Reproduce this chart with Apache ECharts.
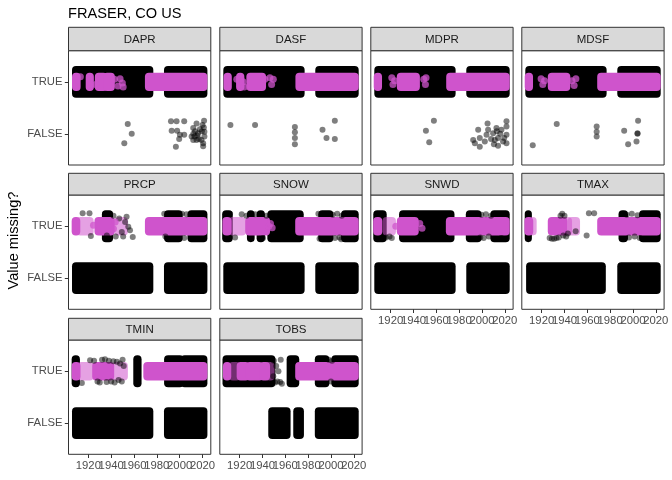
<!DOCTYPE html>
<html><head><meta charset="utf-8">
<script src="https://cdn.jsdelivr.net/npm/echarts@6/dist/echarts.min.js"></script>
<style>html,body{margin:0;padding:0;background:#fff}#c{width:672px;height:480px}</style>
</head><body><div id="c"></div>
<script>
// ---------- data ----------
const panels = ['DAPR','DASF','MDPR','MDSF','PRCP','SNOW','SNWD','TMAX','TMIN','TOBS'];
const yLevels = ['FALSE','TRUE'];            // y = 1, 2
const xTicks = [1920,1940,1960,1980,2000,2020];
const titleText = 'FRASER, CO US';
const yTitle = 'Value missing?';

// dense runs of points: [startYear, endYear]
const DAPR_T_black = [[1908.3,1974.3],[1988.9,2021.7]];
const DAPR_F_black = [];
const DAPR_T_pink = [[1908.3,1910.6],[1920.3,1922.2],[1928.3,1934],[1935.5,1940.6],[1972.2,2021.7]];
const DAPR_T_pinkLight = [];
const DAPR_pinkPts = [[1913,2.1],[1926.5,1.95],[1942.8,2.05],[1946,1.92],[1947.8,2.06],[1949.8,1.98],[1950.5,1.9]];
const DAPR_pts = [[1954.5,1.19],[1958,1.0],[1951.5,0.82],[1992.4,1.24],[1997.3,1.24],[2004,1.24],[1993,1.06],[1997.8,1.06],[2000.2,0.98],[2004,0.98],[1999.6,0.9],[1996.7,0.75],[2021.4,1.25],[2014.8,1.2],[2020,1.17],[2011.9,1.11],[2017.7,1.09],[2021.7,1.04],[2013.1,0.95],[2014.8,0.88],[2021.7,0.95],[2011.9,0.88],[2020.6,0.82],[2020.6,0.76],[2016.2,1.01],[2010.5,0.95],[2019.1,0.88],[2012,1.0],[2013.5,1.05],[2015.5,0.97],[2016.8,0.9],[2019.5,1.05],[2021.2,1.12]];

const DASF_T_black = [[1908.3,1974.3],[1988.9,2021.7]];
const DASF_F_black = [];
const DASF_T_pink = [[1908.5,1910.5],[1919.5,1921.5],[1928.5,1940.5],[1971.5,2021.7]];
const DASF_T_pinkLight = [];
const DASF_pinkPts = [[1917.5,2.05],[1923,2.0],[1924,1.9],[1942,2.05],[1946.5,2.08],[1948,1.95],[1949.5,2.05]];
const DASF_pts = [[1911.9,1.17],[1933.5,1.17],[1968.4,1.13],[1968.4,1.03],[1968.4,0.92],[1968.4,0.8],[1992.6,1.08],[2003.4,1.25],[1996.1,0.92],[2003.4,0.9]];

const MDPR_T_black = [[1908.3,1974.3],[1988.9,2021.7]];
const MDPR_F_black = [];
const MDPR_T_pink = [[1907.8,1909.8],[1928,1943],[1971.3,2021.7]];
const MDPR_T_pinkLight = [];
const MDPR_pinkPts = [[1921,2.08],[1922,1.95],[1923.5,2.02],[1949,2.05],[1950.5,1.95],[1951,2.08]];
const MDPR_pts = [[1957.9,1.25],[1950.9,1.06],[1953.8,0.84],[2004.9,1.2],[1996.7,1.08],[2005.4,1.08],[2012.7,1.11],[2021.5,1.24],[2021.5,1.14],[2017.1,1.08],[1992.3,0.88],[1998.1,0.92],[2002.5,0.85],[1998.1,0.75],[2004,0.98],[2009.8,1.01],[2014.1,0.77],[2021.5,0.98],[2021.5,0.82],[2014.1,0.92],[2011.3,0.88],[2018.5,0.85],[1993.8,0.82],[2013,1.05],[2016,1.0],[2019.5,0.92],[2010.5,0.8],[2008,0.9]];

const MDSF_T_black = [[1908.3,1974.3],[1988.9,2021.7]];
const MDSF_F_black = [];
const MDSF_T_pink = [[1907.8,1909.8],[1928,1942.5],[1971.3,2021.7]];
const MDSF_T_pinkLight = [];
const MDSF_pinkPts = [[1919.5,2.06],[1921,1.95],[1922.5,2.02],[1946.5,2.02],[1948.5,1.93],[1950,2.06]];
const MDSF_pts = [[1912.2,0.78],[1933.2,1.19],[1968.2,1.14],[1968.2,1.04],[1968.2,0.95],[1992.3,1.06],[2004.5,1.25],[2004,1.01],[2004,1.0],[1995.8,0.8],[2003.1,0.85]];

const PRCP_T_black = [[1934.5,1939],[1989,2000],[2009.5,2021.7]];
const PRCP_F_black = [[1908.3,1974.3],[1988.9,2021.7]];
const PRCP_T_pink = [[1908,1910.3],[1928,1940.5],[1972.2,2021.7]];
const PRCP_T_pinkLight = [[1912,1922],[1945.5,1952]];
const PRCP_pinkPts = [[1924.5,2.02],[1942,1.95],[1943.5,2.08]];
const PRCP_pts = [[1915,2.25],[1921,2.25],[1922.2,1.81],[1934.7,2.24],[1939,2.24],[1936.2,1.82],[1952.2,2.08],[1956.5,1.92],[1958.9,1.79],[1949.3,1.89],[1955,1.99],[1947,2.15],[1944,1.8],[1942,2.2],[1953.5,2.18],[1950.5,1.8],[2002,2.24],[2004,1.77],[2006,2.23],[1986.5,2.24],[1987.5,1.8]];

const SNOW_T_black = [[1907.3,1911.3],[1929,1930.5],[1937.5,1939.5],[1946.9,1973.5],[1991.5,1999.5],[2011.5,2021.7]];
const SNOW_F_black = [[1908.3,1974.3],[1988.9,2021.7]];
const SNOW_T_pink = [[1907.5,1910.3],[1927.5,1944],[1971.3,2021.7]];
const SNOW_T_pinkLight = [[1913,1923]];
const SNOW_pinkPts = [[1945.5,2.0],[1947,2.05],[1948.5,1.97]];
const SNOW_pts = [[1911.6,2.24],[1921.8,2.23],[1916,1.78],[1926,2.2],[1937.8,1.76],[1940.5,1.77],[1933.5,2.23],[1943.5,2.2],[2001.5,2.22],[2003.5,1.77],[2005.5,2.24],[2007.5,1.78],[2009.5,2.2],[1989,2.24],[1990,1.76],[2009,1.75]];

const SNWD_T_black = [[1907.4,1913.9],[1930,1973.3],[1988.5,1997],[2010,2021.7]];
const SNWD_F_black = [[1908.3,1974.3],[1988.9,2021.7]];
const SNWD_T_pink = [[1907.3,1910],[1928,1942],[1971,2021.7]];
const SNWD_T_pinkLight = [[1915.5,1922]];
const SNWD_pinkPts = [[1945.5,2.05],[1947.5,1.96],[1924.5,2.0]];
const SNWD_pts = [[1916,1.78],[1919,1.8],[1921,1.77],[1999.5,2.22],[2001.5,1.77],[2003.5,2.23],[2006,1.8],[2008,2.2],[1998.5,1.78],[2020.5,1.76],[2017,1.77]];

const TMAX_T_black = [[1907.8,1908.8],[1990,1993],[2008,2021.7]];
const TMAX_F_black = [[1909,1973.6],[1988.9,2021.7]];
const TMAX_T_pink = [[1907.5,1910],[1928,1940],[1971.3,2021.7]];
const TMAX_T_pinkLight = [[1911.5,1913],[1941,1944],[1945.5,1951]];
const TMAX_pinkPts = [];
const TMAX_pts = [[1927,1.77],[1929,1.76],[1931,1.76],[1933,1.77],[1935,1.78],[1936.5,2.2],[1938,2.24],[1939,1.82],[1940,2.2],[1941.5,1.8],[1943,1.86],[1949.8,1.9],[1959.4,1.82],[1961.4,2.25],[1966,2.25],[1994.5,2.22],[1996.5,1.78],[1999,2.24],[2001.5,1.8],[2004,2.21],[2006,1.77]];

const TMIN_T_black = [[1908,1910],[1962,1964],[1989,2001],[2003.5,2021.7]];
const TMIN_F_black = [[1908.3,1974.3],[1988.9,2021.7]];
const TMIN_T_pink = [[1908,1910.5],[1926,1940],[1970.8,2021.7]];
const TMIN_T_pinkLight = [[1913,1922],[1943,1952]];
const TMIN_pinkPts = [];
const TMIN_pts = [[1914.3,1.77],[1921.5,2.21],[1925,2.2],[1928,1.8],[1930,1.78],[1932,2.22],[1934.6,2.23],[1936,1.79],[1938,2.2],[1940,1.8],[1941.9,2.19],[1943,1.78],[1945,2.18],[1947.8,2.15],[1949.3,1.8],[1951,2.1],[1950,2.22],[1946.5,1.83]];

const TOBS_T_black = [[1907.6,1948.7],[1963.8,1969.6],[1988.5,1996],[2003,2021.7]];
const TOBS_F_black = [[1947.7,1962],[1969.6,1973.7],[1988.5,2021.7]];
const TOBS_T_pink = [[1908,1910],[1920,1926],[1928,1938],[1940,1944],[1971.3,2021.7]];
const TOBS_T_pinkLight = [[1913,1918],[1945,1948]];
const TOBS_pinkPts = [];
const TOBS_pts = [[1950,2.2],[1951,1.78],[1952,2.1],[1953,1.8],[1954,2.0],[1955.5,1.79],[1956,2.22],[1957,1.76],[1998,2.22],[2000,1.8],[2001,2.2],[1949.5,1.9]];

const panelData = {
  DAPR:[DAPR_T_black,DAPR_F_black,DAPR_T_pink,DAPR_T_pinkLight,DAPR_pts,DAPR_pinkPts],
  DASF:[DASF_T_black,DASF_F_black,DASF_T_pink,DASF_T_pinkLight,DASF_pts,DASF_pinkPts],
  MDPR:[MDPR_T_black,MDPR_F_black,MDPR_T_pink,MDPR_T_pinkLight,MDPR_pts,MDPR_pinkPts],
  MDSF:[MDSF_T_black,MDSF_F_black,MDSF_T_pink,MDSF_T_pinkLight,MDSF_pts,MDSF_pinkPts],
  PRCP:[PRCP_T_black,PRCP_F_black,PRCP_T_pink,PRCP_T_pinkLight,PRCP_pts,PRCP_pinkPts],
  SNOW:[SNOW_T_black,SNOW_F_black,SNOW_T_pink,SNOW_T_pinkLight,SNOW_pts,SNOW_pinkPts],
  SNWD:[SNWD_T_black,SNWD_F_black,SNWD_T_pink,SNWD_T_pinkLight,SNWD_pts,SNWD_pinkPts],
  TMAX:[TMAX_T_black,TMAX_F_black,TMAX_T_pink,TMAX_T_pinkLight,TMAX_pts,TMAX_pinkPts],
  TMIN:[TMIN_T_black,TMIN_F_black,TMIN_T_pink,TMIN_T_pinkLight,TMIN_pts,TMIN_pinkPts],
  TOBS:[TOBS_T_black,TOBS_F_black,TOBS_T_pink,TOBS_T_pinkLight,TOBS_pts,TOBS_pinkPts]
};

// ---------- layout / style ----------
const FONT = 'Liberation Sans';
const colLeft = [68.5, 219.8, 370.8, 521.8], panelW = 142.3;
const rowTop = [50.7, 195, 340], panelH = 114.3, stripTop = [27.3, 173.3, 318.3];
const bottomPanels = ['SNWD','TMAX','TMIN','TOBS'];
const BLACK_HALF = 0.25, PINK_HALF = 0.12, PT_R = 3;
const PINK = '#CF54CC';

function bandRenderer(half, color, opacity) {
  return function (params, api) {
    const s = api.value(0), e = api.value(1), lv = api.value(2);
    const a = api.coord([s, lv + half]);
    const b = api.coord([e, lv - half]);
    return {
      type: 'rect',
      shape: { x: a[0] - PT_R, y: a[1] - PT_R, width: b[0] - a[0] + 2 * PT_R, height: b[1] - a[1] + 2 * PT_R, r: PT_R + 1 },
      style: { fill: color, opacity: opacity }
    };
  };
}

const grids = [], xAxes = [], yAxes = [], series = [], graphics = [];
panels.forEach((name, i) => {
  const col = i % 4, row = Math.floor(i / 4);
  const left = colLeft[col], top = rowTop[row];
  grids.push({ left: left, top: top, width: panelW, height: panelH, show: true,
    borderColor: '#333333', borderWidth: 1, backgroundColor: '#fff', containLabel: false });
  const isBottom = bottomPanels.includes(name);
  const isLeft = col === 0;
  xAxes.push({ type: 'value', gridIndex: i, min: 1902.6, max: 2027.3,
    axisLine: { show: false }, splitLine: { show: false },
    axisTick: { show: isBottom, customValues: xTicks, length: 3.7, lineStyle: { color: '#333333', width: 1 } },
    axisLabel: { show: false } });
  yAxes.push({ type: 'value', gridIndex: i, min: 0.4, max: 2.6,
    axisLine: { show: false }, splitLine: { show: false },
    axisTick: { show: isLeft, customValues: [1, 2], length: 3.7, lineStyle: { color: '#333333', width: 1 } },
    axisLabel: { show: isLeft, customValues: [1, 2], formatter: v => yLevels[Math.round(v) - 1],
      hideOverlap: false, color: '#4D4D4D', fontSize: 11.3, fontFamily: FONT, margin: 6 } });

  const [tb, fb, tp, tl, pts, pp] = panelData[name];
  const common = { xAxisIndex: i, yAxisIndex: i, animation: false, silent: true };
  series.push(Object.assign({ type: 'custom', clip: true, renderItem: bandRenderer(BLACK_HALF, '#000', 1),
    encode: { x: [0, 1], y: 2 },
    data: tb.map(r => [r[0], r[1], 2]).concat(fb.map(r => [r[0], r[1], 1])) }, common));
  series.push(Object.assign({ type: 'scatter', symbolSize: 6, data: pts,
    itemStyle: { color: '#000', opacity: 0.5 } }, common));
  series.push(Object.assign({ type: 'custom', clip: true, renderItem: bandRenderer(PINK_HALF, PINK, 0.55),
    encode: { x: [0, 1], y: 2 }, data: tl.map(r => [r[0], r[1], 2]) }, common));
  series.push(Object.assign({ type: 'custom', clip: true, renderItem: bandRenderer(PINK_HALF, PINK, 1),
    encode: { x: [0, 1], y: 2 }, data: tp.map(r => [r[0], r[1], 2]) }, common));
  series.push(Object.assign({ type: 'scatter', symbolSize: 7, data: pp,
    itemStyle: { color: PINK, opacity: 0.75 } }, common));

  // strip
  graphics.push({ type: 'rect', shape: { x: left, y: stripTop[row], width: panelW, height: top - stripTop[row] },
    style: { fill: '#D9D9D9', stroke: '#333333', lineWidth: 1 }, z: 10 });
  graphics.push({ type: 'text', x: left + panelW / 2, y: (stripTop[row] + top) / 2 + 0.5,
    style: { text: name, fill: '#1A1A1A', fontSize: 11.5, fontFamily: FONT, align: 'center', verticalAlign: 'middle' }, z: 11 });
});

graphics.push({ type: 'text', x: 68, y: 13.5,
  style: { text: titleText, fill: '#000', fontSize: 14.6, fontFamily: FONT, align: 'left', verticalAlign: 'middle' } });
graphics.push({ type: 'text', x: 14, y: 240.5, rotation: Math.PI / 2,
  style: { text: yTitle, fill: '#000', fontSize: 14.6, fontFamily: FONT, align: 'center', verticalAlign: 'middle' } });

const chart = echarts.init(document.getElementById('c'), null, { renderer: 'canvas' });
const option = {
  backgroundColor: '#fff',
  animation: false,
  grid: grids, xAxis: xAxes, yAxis: yAxes, series: series, graphic: graphics
};
chart.setOption(option);

// x tick labels (all shown, overlapping like the original), positioned through the axis scale
const labelGraphics = graphics.slice();
panels.forEach((name, i) => {
  if (!bottomPanels.includes(name)) return;
  const row = Math.floor(i / 4);
  const bottom = rowTop[row] + panelH;
  xTicks.forEach(v => {
    const px = chart.convertToPixel({ xAxisIndex: i }, v);
    labelGraphics.push({ type: 'text', x: px, y: bottom + 6.3,
      style: { text: String(v), fill: '#4D4D4D', fontSize: 11.3, fontFamily: FONT, align: 'center', verticalAlign: 'top' } });
  });
});
chart.setOption({ graphic: labelGraphics }, { replaceMerge: ['graphic'] });
</script>
</body></html>
